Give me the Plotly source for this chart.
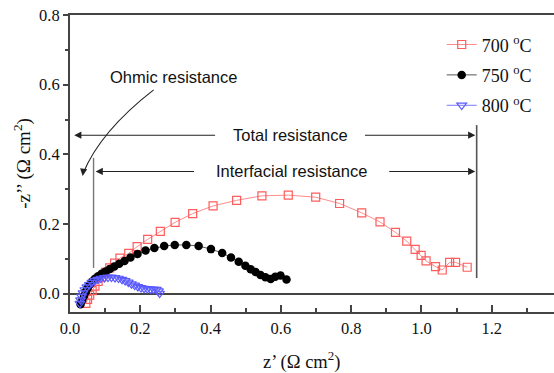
import plotly.graph_objects as go

# ---- data ----
red_x = [0.045, 0.050, 0.056, 0.063, 0.071, 0.080, 0.090, 0.101, 0.113, 0.127, 0.142, 0.167,
         0.191, 0.221, 0.257, 0.299, 0.349, 0.407, 0.474, 0.546, 0.621, 0.699, 0.767, 0.830,
         0.882, 0.926, 0.958, 0.982, 0.999, 1.013, 1.040, 1.059, 1.080, 1.097, 1.130]
red_y = [-0.028, -0.016, -0.004, 0.009, 0.022, 0.035, 0.048, 0.061, 0.074, 0.088, 0.102, 0.116,
         0.135, 0.156, 0.179, 0.205, 0.230, 0.252, 0.268, 0.281, 0.283, 0.277, 0.259, 0.232,
         0.206, 0.176, 0.151, 0.127, 0.110, 0.094, 0.078, 0.068, 0.090, 0.090, 0.076]

blk_x = [0.030, 0.035, 0.040, 0.045, 0.050, 0.056, 0.063, 0.071, 0.080, 0.090, 0.101, 0.113,
         0.126, 0.140, 0.155, 0.172, 0.192, 0.215, 0.240, 0.268, 0.298, 0.331, 0.366, 0.401,
         0.433, 0.458, 0.480, 0.499, 0.514, 0.528, 0.542, 0.556, 0.571, 0.584, 0.599, 0.616]
blk_y = [-0.030, -0.018, -0.006, 0.006, 0.016, 0.026, 0.035, 0.043, 0.050, 0.057, 0.064, 0.071,
         0.078, 0.086, 0.094, 0.104, 0.114, 0.124, 0.131, 0.137, 0.140, 0.140, 0.137, 0.128,
         0.117, 0.104, 0.092, 0.080, 0.070, 0.062, 0.054, 0.047, 0.042, 0.049, 0.052, 0.041]

blu_x = [0.028, 0.030, 0.033, 0.037, 0.042, 0.048, 0.055, 0.062, 0.070, 0.079, 0.088, 0.098,
         0.108, 0.118, 0.128, 0.138, 0.148, 0.157, 0.166, 0.175, 0.184, 0.193, 0.202, 0.211,
         0.220, 0.229, 0.238, 0.246, 0.252, 0.255]
blu_y = [-0.028, -0.018, -0.008, 0.002, 0.011, 0.019, 0.026, 0.032, 0.037, 0.041, 0.044, 0.046,
         0.047, 0.047, 0.046, 0.044, 0.041, 0.037, 0.033, 0.028, 0.024, 0.020, 0.017, 0.015,
         0.014, 0.013, 0.013, 0.012, 0.008, 0.001]

series_names = ["700 <sup>o</sup>C", "750 <sup>o</sup>C", "800 <sup>o</sup>C"]
x_title = "z\u2019 (\u03a9 cm<sup>2</sup>)"
y_title = "-z\u2019\u2019 (\u03a9 cm<sup>2</sup>)"

# annotation levels (data units)
total_y = 0.455
inter_y = 0.351
total_right_x = 1.157
inter_left_x = 0.067

SERIF = "Liberation Serif"
SANS = "Liberation Sans"

fig = go.Figure()
fig.add_trace(go.Scatter(
    x=red_x, y=red_y, mode="lines+markers", name=series_names[0], legendgroup="a",
    line=dict(color="#ff8c8c", width=1),
    marker=dict(symbol="square-open", size=8, color="#ff5c5c", line=dict(width=1.2))))
fig.add_trace(go.Scatter(
    x=blk_x, y=blk_y, mode="lines+markers", name=series_names[1], legendgroup="b",
    line=dict(color="#555555", width=1),
    marker=dict(symbol="circle", size=8.5, color="#000000")))
fig.add_trace(go.Scatter(
    x=blu_x, y=blu_y, mode="lines+markers", name=series_names[2], legendgroup="c",
    line=dict(color="#7878ff", width=1),
    marker=dict(symbol="triangle-down-open", size=8.5, color="#5a5aff", line=dict(width=1.2))))

ac = "#222222"
arrows = [
    # (head_x, head_y, tail_x, tail_y)
    (0.012, total_y, 0.417, total_y),
    (total_right_x - 0.004, total_y, 0.835, total_y),
    (inter_left_x + 0.006, inter_y, 0.357, inter_y),
    (total_right_x - 0.004, inter_y, 0.904, inter_y),
    (0.036, 0.338, 0.0385, 0.356),
]
annotations = []
for hx, hy, tx, ty in arrows:
    annotations.append(dict(x=hx, y=hy, ax=tx, ay=ty, xref="x", yref="y", axref="x", ayref="y",
                            text="", showarrow=True, arrowhead=2, arrowsize=1.3, arrowwidth=1.1,
                            arrowcolor=ac, standoff=0))
annotations += [
    dict(x=0.627, y=total_y, xref="x", yref="y", text="Total resistance", showarrow=False,
         font=dict(family=SANS, size=16.5, color="#111")),
    dict(x=0.629, y=inter_y, xref="x", yref="y", text="Interfacial resistance", showarrow=False,
         font=dict(family=SANS, size=16.5, color="#111")),
    dict(x=0.295, y=0.622, xref="x", yref="y", text="Ohmic resistance", showarrow=False,
         font=dict(family=SANS, size=16.5, color="#111")),
    dict(x=0.479, y=-0.163, xref="paper", yref="paper", text=x_title, showarrow=False,
         xanchor="center", yanchor="middle", font=dict(family=SERIF, size=18.5, color="#111")),
]

shapes = [
    dict(type="line", xref="x", yref="y", x0=total_right_x, x1=total_right_x, y0=0.045, y1=0.484,
         line=dict(color="#555555", width=1.6)),
    dict(type="line", xref="x", yref="y", x0=inter_left_x, x1=inter_left_x, y0=0.074, y1=0.39,
         line=dict(color="#777777", width=1.4)),
    dict(type="path", xref="x", yref="y", path="M 0.238,0.585 Q 0.087,0.467 0.037,0.345",
         line=dict(color=ac, width=1.1)),
]

fig.update_layout(
    width=554, height=373,
    margin=dict(l=70, r=0, t=15, b=61),
    paper_bgcolor="white", plot_bgcolor="white",
    showlegend=True,
    legend=dict(x=0.768, y=0.962, xanchor="left", yanchor="top",
                font=dict(family=SERIF, size=18, color="#111"), bgcolor="rgba(0,0,0,0)",
                tracegroupgap=4),
    annotations=annotations,
    shapes=shapes,
)
fig.update_xaxes(
    range=[0, 1.377], showgrid=False, zeroline=False, automargin=False,
    showline=True, linecolor="#444", linewidth=2, mirror=True,
    ticks="inside", ticklen=7, tickwidth=1.5, tickcolor="#444",
    dtick=0.2, tick0=0, tickformat=".1f",
    minor=dict(dtick=0.1, ticks="inside", ticklen=4, tickcolor="#444", tickwidth=1.5),
    tickfont=dict(family=SERIF, size=16.5, color="#111"),
)
fig.update_yaxes(
    range=[-0.0525, 0.8], showgrid=False, automargin=False,
    zeroline=True, zerolinecolor="#444", zerolinewidth=2,
    showline=True, linecolor="#444", linewidth=2,
    ticks="outside", ticklen=5, tickwidth=1.5, tickcolor="#444",
    dtick=0.2, tick0=0, tickformat=".1f",
    minor=dict(dtick=0.1, ticks="outside", ticklen=3, tickcolor="#444", tickwidth=1.5),
    tickfont=dict(family=SERIF, size=16.5, color="#111"),
    title=dict(text=y_title, font=dict(family=SERIF, size=19, color="#111"), standoff=3),
)

fig.write_html("out.html", config={"displayModeBar": False},
               post_script="document.body.style.margin='0';document.body.style.overflow='hidden';")
